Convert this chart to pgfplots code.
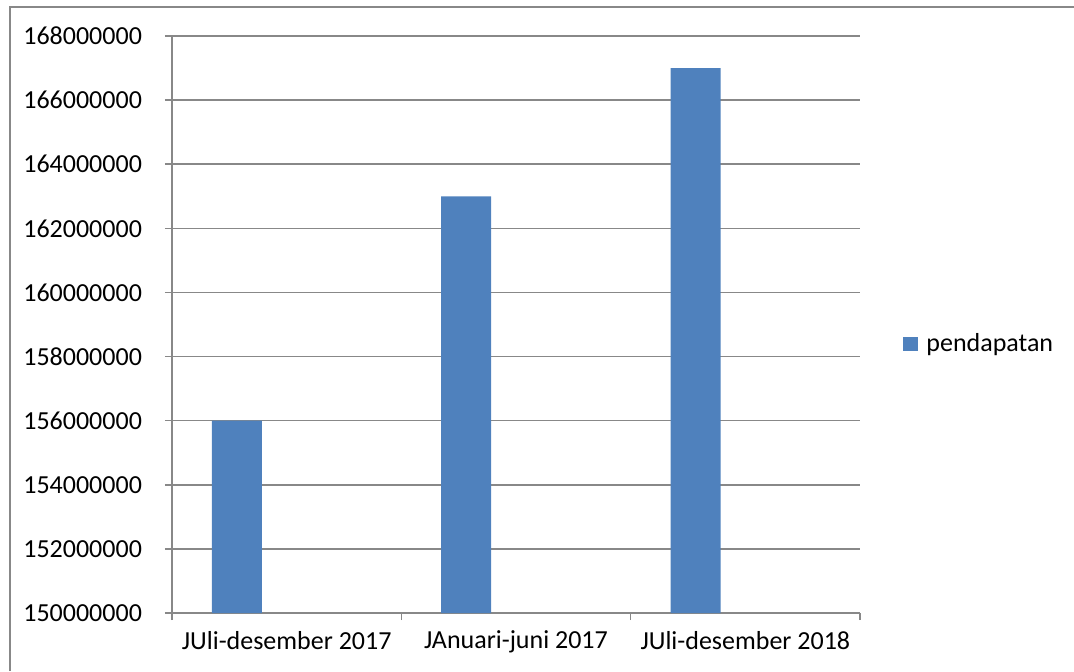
\documentclass[border=0pt]{standalone}
\usepackage{pgfplots}
\pgfplotsset{compat=1.18}
\usepackage{fontspec}
\setmainfont{Carlito}
\definecolor{barblue}{HTML}{4F81BD}
\definecolor{axgray}{HTML}{888888}
\begin{document}
\fontsize{13pt}{15pt}\selectfont
\begin{tikzpicture}
\useasboundingbox (0,0) rectangle (537pt,335.5pt);
\draw[color=axgray, line width=1pt] (4.75pt,0) -- (4.75pt,332pt) -- (537pt,332pt);
\begin{axis}[
  at={(86pt,29pt)}, anchor=south west,
  scale only axis, width=344pt, height=288.5pt,
  xmin=0, xmax=3,
  ymin=150000000, ymax=168000000,
  ytick={150000000,152000000,154000000,156000000,158000000,160000000,162000000,164000000,166000000,168000000},
  scaled y ticks=false,
  yticklabel style={/pgf/number format/fixed,/pgf/number format/1000 sep={},/pgf/number format/assume math mode=true, font=\fontsize{13pt}{15pt}\selectfont, xshift=-7pt},
  xtick={0.5,1.5,2.5},
  xticklabels={JUli-desember 2017, JAnuari-juni 2017, JUli-desember 2018},
  xticklabel style={font=\fontsize{13pt}{15pt}\selectfont, yshift=-1pt},
  minor xtick={0,1,2,3},
  major x tick style={draw=none},
  axis lines*=left,
  axis line style={color=axgray, line width=0.8pt},
  tick style={color=axgray, line width=0.8pt},
  tick align=outside,
  major tick length=3.5pt, minor tick length=3.5pt,
  ymajorgrids,
  grid style={color=axgray, line width=0.75pt},
  legend style={at={(1.0625,0.466)}, anchor=west, draw=none, fill=none, inner sep=0pt, font=\fontsize{13pt}{15pt}\selectfont},
  legend image code/.code={\fill[#1] (0pt,-3.5pt) rectangle (7.5pt,3.5pt); \path (9.5pt,0pt);},
  clip=true,
]
\addplot[ybar, bar width=0.218, bar shift=0pt, fill=barblue, draw=none]
  coordinates {(0.283,156000000) (1.283,163000000) (2.283,167000000)};
\addlegendentry{pendapatan}
\end{axis}
\end{tikzpicture}
\end{document}
